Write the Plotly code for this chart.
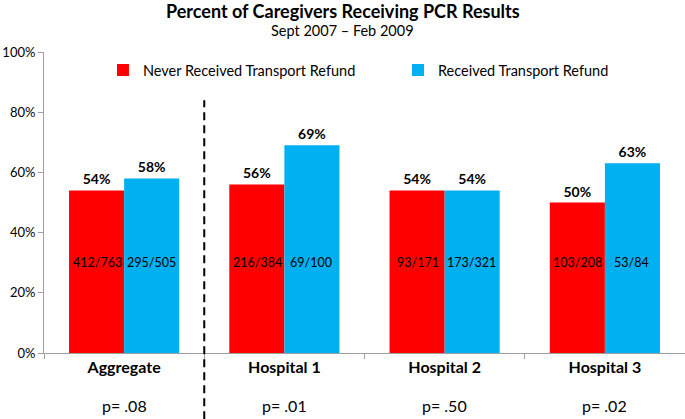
import plotly.graph_objects as go

categories = ["Aggregate", "Hospital 1", "Hospital 2", "Hospital 3"]
never_pct = [54, 56, 54, 50]
received_pct = [58, 69, 54, 63]
never_counts = ["412/763", "216/384", "93/171", "103/208"]
received_counts = ["295/505", "69/100", "173/321", "53/84"]
p_values = ["p= .08", "p= .01", "p= .50", "p= .02"]

RED = "#FF0000"
BLUE = "#00B0F0"
FONT = "Lato"

fig = go.Figure()
fig.add_trace(go.Bar(
    x=categories, y=never_pct, name="Never Received Transport Refund",
    marker=dict(color=RED, line=dict(width=0)),
    text=[f"<b>{v}%</b>" for v in never_pct], textposition="outside",
    textfont=dict(size=14, color="black"), cliponaxis=False,
))
fig.add_trace(go.Bar(
    x=categories, y=received_pct, name="Received Transport Refund",
    marker=dict(color=BLUE, line=dict(width=0)),
    text=[f"<b>{v}%</b>" for v in received_pct], textposition="outside",
    textfont=dict(size=14, color="black"), cliponaxis=False,
))

# count labels inside bars at 30%, p-values under the categories
for cat, nc, rc, pv in zip(categories, never_counts, received_counts, p_values):
    fig.add_annotation(x=cat, y=30, text=nc, showarrow=False, xshift=-27,
                       font=dict(size=12.5, color="black"))
    fig.add_annotation(x=cat, y=30, text=rc, showarrow=False, xshift=27,
                       font=dict(size=12.5, color="black"))
    fig.add_annotation(x=cat, y=-0.173, yref="paper", yanchor="middle", text=pv,
                       showarrow=False, font=dict(size=16, color="black"))

# titles
fig.add_annotation(x=0.466, y=1.135, xref="paper", yref="paper", yanchor="middle",
                   text="<b>Percent of Caregivers Receiving PCR Results</b>",
                   showarrow=False, font=dict(size=18, color="black"))
fig.add_annotation(x=0.466, y=1.073, xref="paper", yref="paper", yanchor="middle",
                   text="Sept 2007 – Feb 2009",
                   showarrow=False, font=dict(size=14.5, color="black"))

# dashed divider after Aggregate
fig.add_shape(type="line", xref="x", yref="paper", x0=0.5, x1=0.5,
              y0=-0.22, y1=0.84, line=dict(color="black", width=2, dash="8px,5px"))

fig.update_layout(
    width=685, height=419,
    margin=dict(l=44, r=0, t=52, b=66, autoexpand=False),
    plot_bgcolor="white", paper_bgcolor="white",
    font=dict(family=FONT, color="black"),
    barmode="group", bargap=0.3125, bargroupgap=0,
    legend=dict(orientation="h", x=0.092, xanchor="left", y=0.94, yanchor="middle",
                font=dict(size=14.5), itemwidth=30, traceorder="normal",
                entrywidth=250, entrywidthmode="pixels",
                bgcolor="rgba(0,0,0,0)"),
    showlegend=True,
)
fig.update_xaxes(
    showline=True, linecolor="#a0a0a0", linewidth=1,
    ticks="outside", tickson="boundaries", ticklen=5, tickcolor="#a0a0a0",
    tickfont=dict(size=16), tickprefix="<b>", ticksuffix="</b>",
    showgrid=False, automargin=False,
)
fig.update_yaxes(
    range=[0, 100], dtick=20, ticksuffix="%",
    showline=True, linecolor="#a0a0a0", linewidth=1,
    ticks="outside", ticklen=5, tickcolor="#a0a0a0",
    tickfont=dict(size=13), showgrid=False, zeroline=False, automargin=False,
)

fig.write_html("out.html", config={"displayModeBar": False},
               post_script="document.body.style.margin='0';"
                           "document.body.style.overflow='hidden';")
